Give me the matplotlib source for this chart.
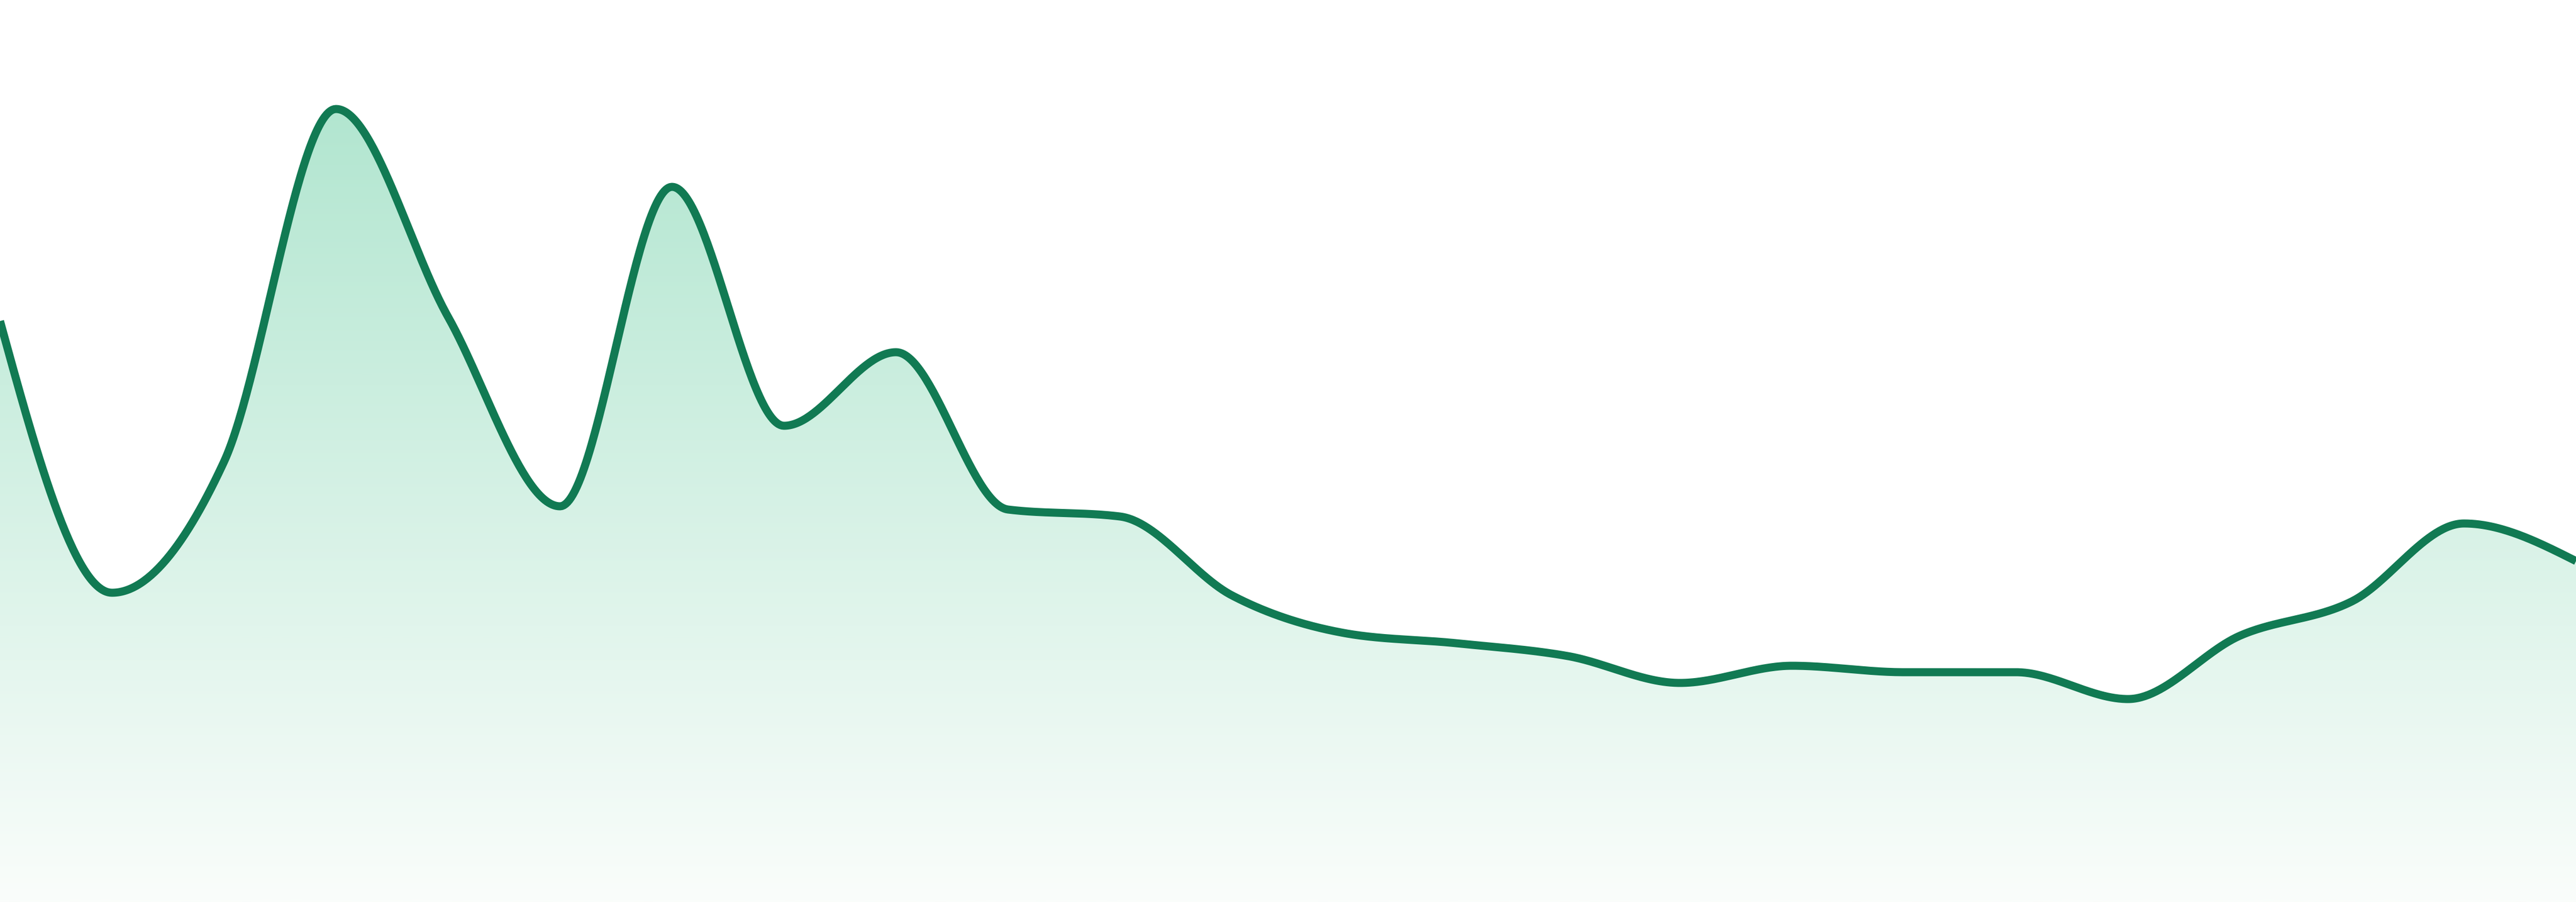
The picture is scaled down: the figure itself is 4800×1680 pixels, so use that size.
import numpy as np
import matplotlib
matplotlib.use("Agg")
import matplotlib.pyplot as plt
from matplotlib.colors import LinearSegmentedColormap

# ---- data ----
x_index = list(range(24))
values = [108.2, 57.6, 82.0, 147.7, 109.0, 73.7, 133.2, 88.7, 102.4, 73.1,
          71.8, 57.1, 50.1, 48.2, 45.8, 40.8, 44.0, 42.8, 42.8, 37.8,
          49.6, 56.0, 70.5, 63.5]

LINE_COLOR = "#117a53"
TOP_COLOR = (178 / 255, 230 / 255, 208 / 255)
BOTTOM_COLOR = (250 / 255, 253 / 255, 251 / 255)


def monotone_x(xs, ys, n=60):
    """d3.curveMonotoneX style rendering of the points."""
    xs = np.asarray(xs, float)
    ys = np.asarray(ys, float)
    m = len(xs)
    h = np.diff(xs)
    s = np.diff(ys) / h
    t = np.zeros(m)
    for i in range(1, m - 1):
        h0, h1 = h[i - 1], h[i]
        s0, s1 = s[i - 1], s[i]
        p = (s0 * h1 + s1 * h0) / (h0 + h1)
        t[i] = (np.sign(s0) + np.sign(s1)) * min(abs(s0), abs(s1), 0.5 * abs(p))
    t[0] = (3 * s[0] - t[1]) / 2
    t[-1] = (3 * s[-1] - t[-2]) / 2
    px, py = [], []
    for i in range(m - 1):
        dx = h[i]
        p0 = (xs[i], ys[i])
        p1 = (xs[i] + dx / 3, ys[i] + dx * t[i] / 3)
        p2 = (xs[i + 1] - dx / 3, ys[i + 1] - dx * t[i + 1] / 3)
        p3 = (xs[i + 1], ys[i + 1])
        u = np.linspace(0, 1, n, endpoint=(i == m - 2))
        a = (1 - u) ** 3
        b = 3 * (1 - u) ** 2 * u
        c = 3 * (1 - u) * u ** 2
        d = u ** 3
        px.append(a * p0[0] + b * p1[0] + c * p2[0] + d * p3[0])
        py.append(a * p0[1] + b * p1[1] + c * p2[1] + d * p3[1])
    return np.concatenate(px), np.concatenate(py)


fig = plt.figure(figsize=(16, 5.6), dpi=300)
ax = fig.add_axes([0, 0, 1, 1])
ax.set_xlim(0, 23)
ax.set_ylim(0, 168)
ax.axis("off")

sx, sy = monotone_x(x_index, values)

# gradient area fill
poly = ax.fill_between(sx, sy, 0, facecolor="none", edgecolor="none")
top_v = max(values)
cmap = LinearSegmentedColormap.from_list("g", [BOTTOM_COLOR, TOP_COLOR])
grad = np.linspace(0, 1, 512).reshape(-1, 1)
im = ax.imshow(grad, cmap=cmap, origin="lower", aspect="auto",
               extent=[0, 23, 0, top_v], interpolation="bilinear", zorder=1)
path = poly.get_paths()[0]
im.set_clip_path(path, transform=ax.transData)

ax.plot(sx, sy, color=LINE_COLOR, linewidth=3.6, solid_capstyle="butt",
        solid_joinstyle="round", zorder=3)

fig.savefig("out.png", dpi=300, facecolor="white")
